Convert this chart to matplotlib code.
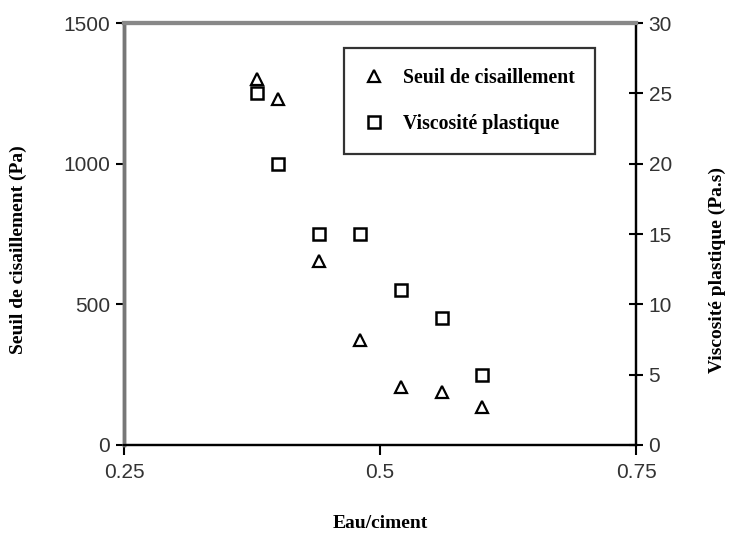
import matplotlib
matplotlib.use('Agg')
import matplotlib.pyplot as plt

# Data
eau_ciment = [0.38, 0.40, 0.44, 0.48, 0.52, 0.56, 0.60]
seuil = [1300, 1230, 655, 375, 205, 188, 135]          # Pa (left axis)
viscosite = [25, 20, 15, 15, 11, 9, 5]                 # Pa.s (right axis)

x_ticks = [0.25, 0.5, 0.75]
x_tick_labels = ['0.25', '0.5', '0.75']
left_ticks = [0, 500, 1000, 1500]
right_ticks = [0, 5, 10, 15, 20, 25, 30]

serif = ['Liberation Serif', 'DejaVu Serif']
sans = ['Liberation Sans', 'DejaVu Sans']

fig = plt.figure(figsize=(7.4, 5.34), dpi=100)
ax = fig.add_axes([0.1676, 0.1667, 0.692, 0.790])
ax2 = ax.twinx()

h1, = ax.plot(eau_ciment, seuil, linestyle='none', marker='^', markersize=9,
              markerfacecolor='white', markeredgecolor='black', markeredgewidth=1.6,
              label='Seuil de cisaillement')
h2, = ax2.plot(eau_ciment, viscosite, linestyle='none', marker='s', markersize=8,
               markerfacecolor='white', markeredgecolor='black', markeredgewidth=1.8,
               label='Viscosité plastique')

ax.set_xlim(0.25, 0.75)
ax.set_ylim(0, 1500)
ax2.set_ylim(0, 30)

ax.set_xticks(x_ticks)
ax.set_xticklabels(x_tick_labels, family=sans, fontsize=15, color='#333333')
ax.set_yticks(left_ticks)
ax.set_yticklabels([str(v) for v in left_ticks], family=sans, fontsize=15, color='#333333')
ax2.set_yticks(right_ticks)
ax2.set_yticklabels([str(v) for v in right_ticks], family=sans, fontsize=15, color='#333333')

ax.tick_params(axis='x', direction='out', length=7, width=1.5, pad=6)
ax.tick_params(axis='y', direction='out', length=6, width=1.5, pad=4)
ax2.tick_params(axis='y', direction='inout', length=10, width=1.5, pad=4)

# spines: left and top grey, bottom and right black
for a in (ax, ax2):
    a.spines['left'].set_color('#777777')
    a.spines['left'].set_linewidth(2.5)
    a.spines['top'].set_color('#888888')
    a.spines['top'].set_linewidth(3)
    a.spines['bottom'].set_color('black')
    a.spines['bottom'].set_linewidth(1.6)
    a.spines['right'].set_color('black')
    a.spines['right'].set_linewidth(1.6)

# axis titles placed in figure coordinates
label_font = {'family': serif, 'weight': 'bold', 'size': 14}
fig.text(380 / 740, 1 - 523 / 534, 'Eau/ciment', ha='center', va='center', **label_font)
fig.text(18 / 740, 1 - 250 / 534, 'Seuil de cisaillement (Pa)', rotation=90,
         ha='center', va='center', **label_font)
fig.text(717 / 740, 1 - 270 / 534, 'Viscosité plastique (Pa.s)', rotation=90,
         ha='center', va='center', **label_font)

leg = ax.legend(handles=[h1, h2], loc='upper left', bbox_to_anchor=(0.43, 0.94),
                borderaxespad=0, frameon=True, fancybox=False, borderpad=1.0,
                labelspacing=1.3, handletextpad=1.0, handlelength=1.0,
                prop={'family': serif, 'weight': 'bold', 'size': 14.2})
leg.get_frame().set_edgecolor('black')
leg.get_frame().set_linewidth(1.6)

plt.savefig('out.png', dpi=100)
plt.close()
